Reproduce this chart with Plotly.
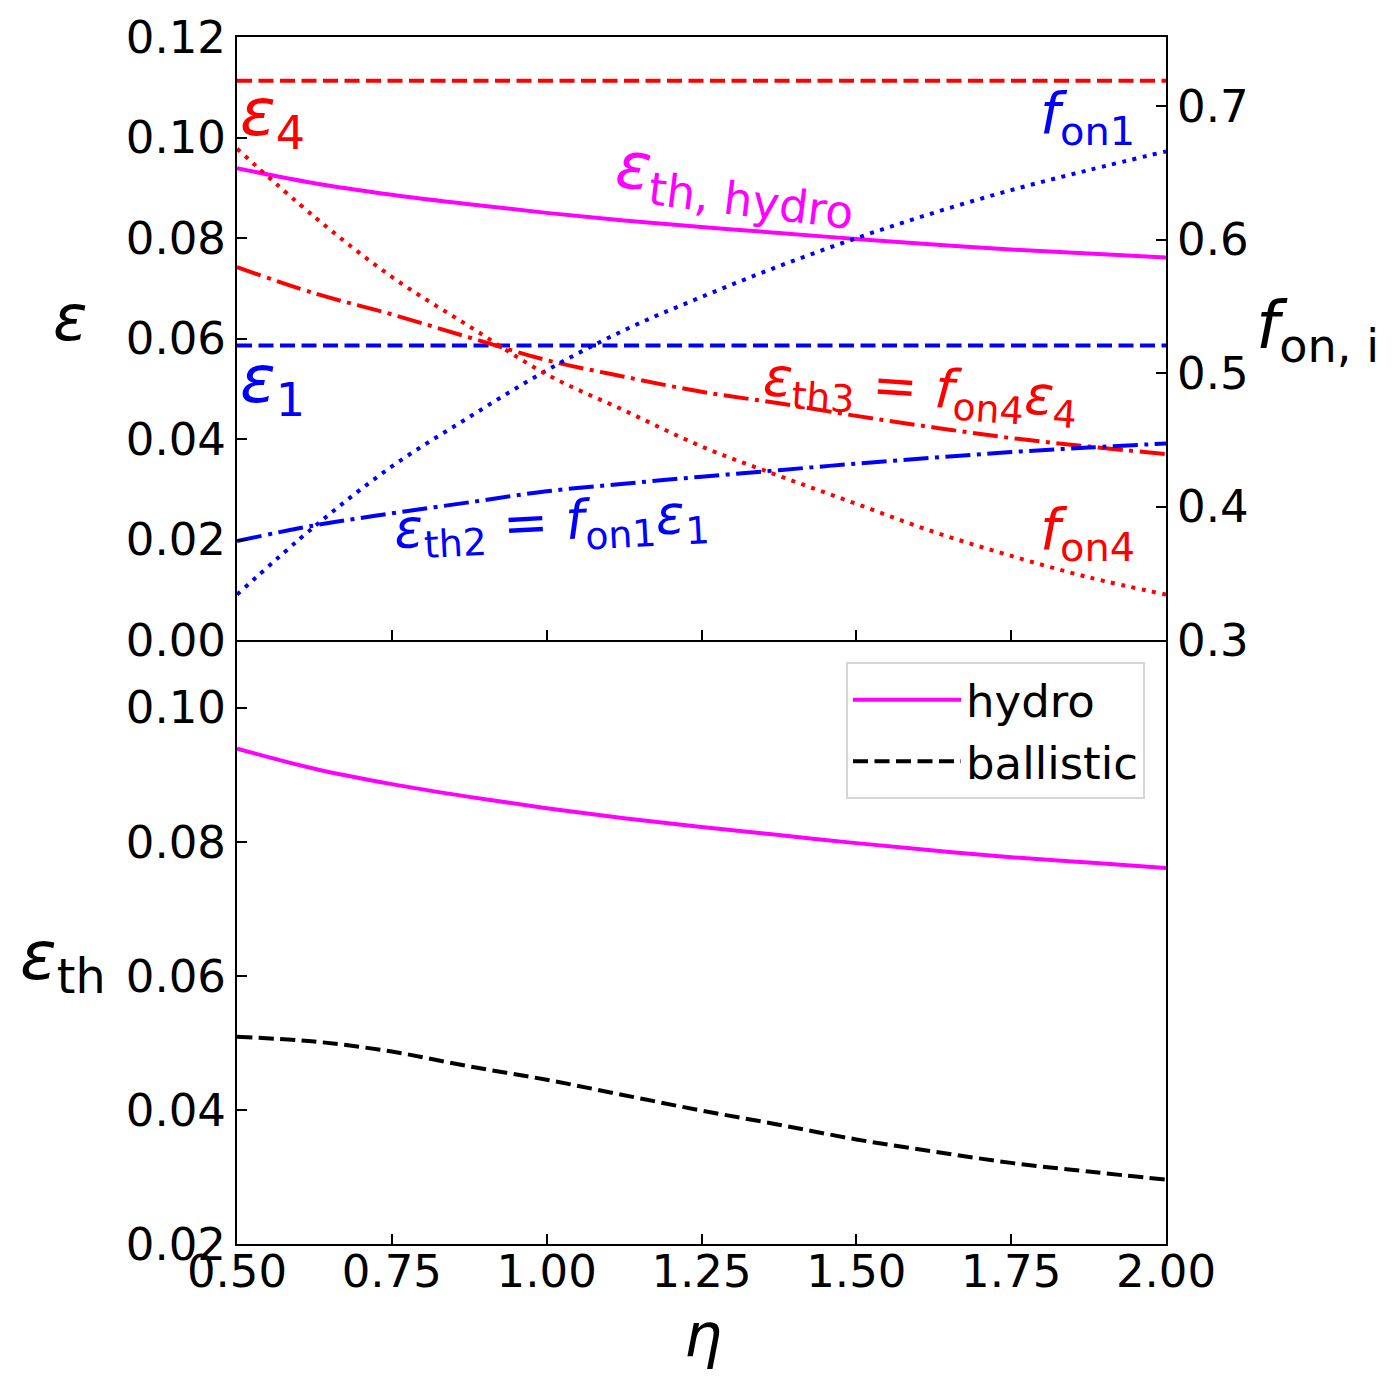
import plotly.graph_objects as go

# eta grid and values
eta = [0.5, 0.625, 0.75, 0.875, 1.0, 1.125, 1.25, 1.375, 1.5, 1.625, 1.75, 1.875, 2.0]

eps4 = 0.1113
eps1 = 0.0586

eps_th_hydro = [0.0939, 0.0909, 0.0886, 0.0867, 0.0850, 0.0835, 0.0822, 0.0810, 0.0798, 0.0787, 0.0777, 0.0769, 0.0761]
eps_th3 = [0.0742, 0.0690, 0.0648, 0.0602, 0.0557, 0.0524, 0.0494, 0.0471, 0.0446, 0.0423, 0.0402, 0.0385, 0.0370]
eps_th2 = [0.0197, 0.0228, 0.0252, 0.0274, 0.0296, 0.0311, 0.0325, 0.0338, 0.0351, 0.0363, 0.0374, 0.0383, 0.0391]

f_on1 = [0.334, 0.385, 0.430, 0.467, 0.502, 0.532, 0.557, 0.580, 0.601, 0.620, 0.637, 0.652, 0.666]
f_on4 = [0.668, 0.617, 0.572, 0.535, 0.499, 0.472, 0.445, 0.423, 0.402, 0.381, 0.363, 0.347, 0.334]

eps_th_ballistic = [0.0509, 0.0502, 0.0487, 0.0465, 0.0445, 0.0422, 0.0399, 0.0378, 0.0356, 0.0338, 0.0321, 0.0308, 0.0296]

x_ticks = [0.5, 0.75, 1.0, 1.25, 1.5, 1.75, 2.0]
y_ticks_top = [0.0, 0.02, 0.04, 0.06, 0.08, 0.10, 0.12]
y_ticks_right = [0.3, 0.4, 0.5, 0.6, 0.7]
y_ticks_bot = [0.02, 0.04, 0.06, 0.08, 0.10]

FONT = "DejaVu Sans"
LW = 4
DASHED = "15px,6.5px"
DOTTED = "4px,6.5px"
DASHDOT = "25px,6.5px,4px,6.5px"

fig = go.Figure()

# top panel, left axis
fig.add_trace(go.Scatter(x=[eta[0], eta[-1]], y=[eps4, eps4], mode="lines",
                         line=dict(color="red", width=LW, dash=DASHED), showlegend=False))
fig.add_trace(go.Scatter(x=[eta[0], eta[-1]], y=[eps1, eps1], mode="lines",
                         line=dict(color="blue", width=LW, dash=DASHED), showlegend=False))
fig.add_trace(go.Scatter(x=eta, y=eps_th_hydro, mode="lines", line_shape="spline",
                         line=dict(color="magenta", width=LW), showlegend=False))
fig.add_trace(go.Scatter(x=eta, y=eps_th3, mode="lines", line_shape="spline",
                         line=dict(color="red", width=LW, dash=DASHDOT), showlegend=False))
fig.add_trace(go.Scatter(x=eta, y=eps_th2, mode="lines", line_shape="spline",
                         line=dict(color="blue", width=LW, dash=DASHDOT), showlegend=False))

# top panel, right axis
fig.add_trace(go.Scatter(x=eta, y=f_on1, mode="lines", line_shape="spline", yaxis="y2",
                         line=dict(color="blue", width=LW, dash=DOTTED), showlegend=False))
fig.add_trace(go.Scatter(x=eta, y=f_on4, mode="lines", line_shape="spline", yaxis="y2",
                         line=dict(color="red", width=LW, dash=DOTTED), showlegend=False))

# bottom panel
fig.add_trace(go.Scatter(x=eta, y=eps_th_hydro, mode="lines", line_shape="spline",
                         xaxis="x2", yaxis="y3", name="hydro",
                         line=dict(color="magenta", width=LW)))
fig.add_trace(go.Scatter(x=eta, y=eps_th_ballistic, mode="lines", line_shape="spline",
                         xaxis="x2", yaxis="y3", name="ballistic",
                         line=dict(color="black", width=LW, dash=DASHED)))

split = (1244 - 640) / 1207

ax_common = dict(showline=True, linecolor="black", linewidth=2, ticks="inside",
                 ticklen=10, tickwidth=2, tickcolor="black", showgrid=False,
                 zeroline=False, automargin=False,
                 tickfont=dict(size=45, family=FONT, color="black"))

# page body adds 8px, so the figure is 8px smaller and margins shifted
fig.update_layout(
    width=1386, height=1374,
    margin=dict(l=229, r=228, t=29, b=138),
    paper_bgcolor="white", plot_bgcolor="white",
    font=dict(family=FONT, color="black"),
    xaxis=dict(domain=[0, 1], anchor="y", range=[0.5, 2.0], tickvals=x_ticks,
               showticklabels=False, mirror=True, **ax_common),
    yaxis=dict(domain=[split, 1], anchor="x", range=[0, 0.12], tickvals=y_ticks_top,
               tickformat=".2f", **ax_common),
    yaxis2=dict(domain=[split, 1], anchor="x", overlaying="y", side="right",
                range=[0.3, 0.7517], tickvals=y_ticks_right, tickformat=".1f", **ax_common),
    xaxis2=dict(domain=[0, 1], anchor="y3", range=[0.5, 2.0], tickvals=x_ticks,
                tickformat=".2f", ticklabelstandoff=-13, **ax_common),
    yaxis3=dict(domain=[0, split], anchor="x2", range=[0.02, 0.1101], tickvals=y_ticks_bot,
                tickformat=".2f", mirror=True, **ax_common),
    legend=dict(x=(1145 - 237) / 929, y=(1244 - 662) / 1207, xanchor="right", yanchor="top",
                font=dict(size=45, family=FONT, color="black"), itemwidth=108,
                tracegroupgap=8,
                bordercolor="#d6d6d6", borderwidth=2, bgcolor="white"),
)

annots = [
    # axis titles
    dict(text="<i>ε</i>", xref="paper", yref="paper", x=(70 - 237) / 929, y=(1244 - 318) / 1207,
         size=64, color="black"),
    dict(text="<i>f</i><sub>on, i</sub>", xref="paper", yref="paper", x=(1317 - 237) / 929,
         y=(1244 - 330) / 1207, size=66, color="black"),
    dict(text="<i>ε</i><sub>th</sub>", xref="paper", yref="paper", x=(63 - 237) / 929,
         y=(1244 - 960) / 1207, size=68, color="black"),
    dict(text="<i>η</i>", xref="paper", yref="paper", x=(703 - 237) / 929,
         y=(1244 - 1335) / 1207, size=60, color="black"),
    # curve labels
    dict(text="<i>ε</i><sub>4</sub>", xref="x", yref="y", x=0.501, y=0.1040, xanchor="left",
         size=66, color="red"),
    dict(text="<i>ε</i><sub>1</sub>", xref="x", yref="y", x=0.501, y=0.0510, xanchor="left",
         size=66, color="blue"),
    dict(text="<i>ε</i><sub>th, hydro</sub>", xref="x", yref="y", x=1.305, y=0.0908,
         size=65, color="magenta", angle=7),
    dict(text="<i>ε</i><sub>th3</sub> = <i>f</i><sub>on4</sub><i>ε</i><sub>4</sub>", xref="x",
         yref="y", x=1.604, y=0.0495, size=54, color="red", angle=4),
    dict(text="<i>ε</i><sub>th2</sub> = <i>f</i><sub>on1</sub><i>ε</i><sub>1</sub>", xref="x",
         yref="y", x=1.007, y=0.0228, size=54, color="blue", angle=-3),
    dict(text="<i>f</i><sub>on1</sub>", xref="x", yref="y", x=1.874, y=0.1041,
         size=57, color="blue"),
    dict(text="<i>f</i><sub>on4</sub>", xref="x", yref="y", x=1.874, y=0.0213,
         size=57, color="red"),
]
for a in annots:
    fig.add_annotation(text=a["text"], xref=a["xref"], yref=a["yref"], x=a["x"], y=a["y"],
                       xanchor=a.get("xanchor", "center"), yanchor="middle",
                       textangle=a.get("angle", 0), showarrow=False,
                       font=dict(size=a["size"], family=FONT, color=a["color"]))

fig.write_html("out.html")
